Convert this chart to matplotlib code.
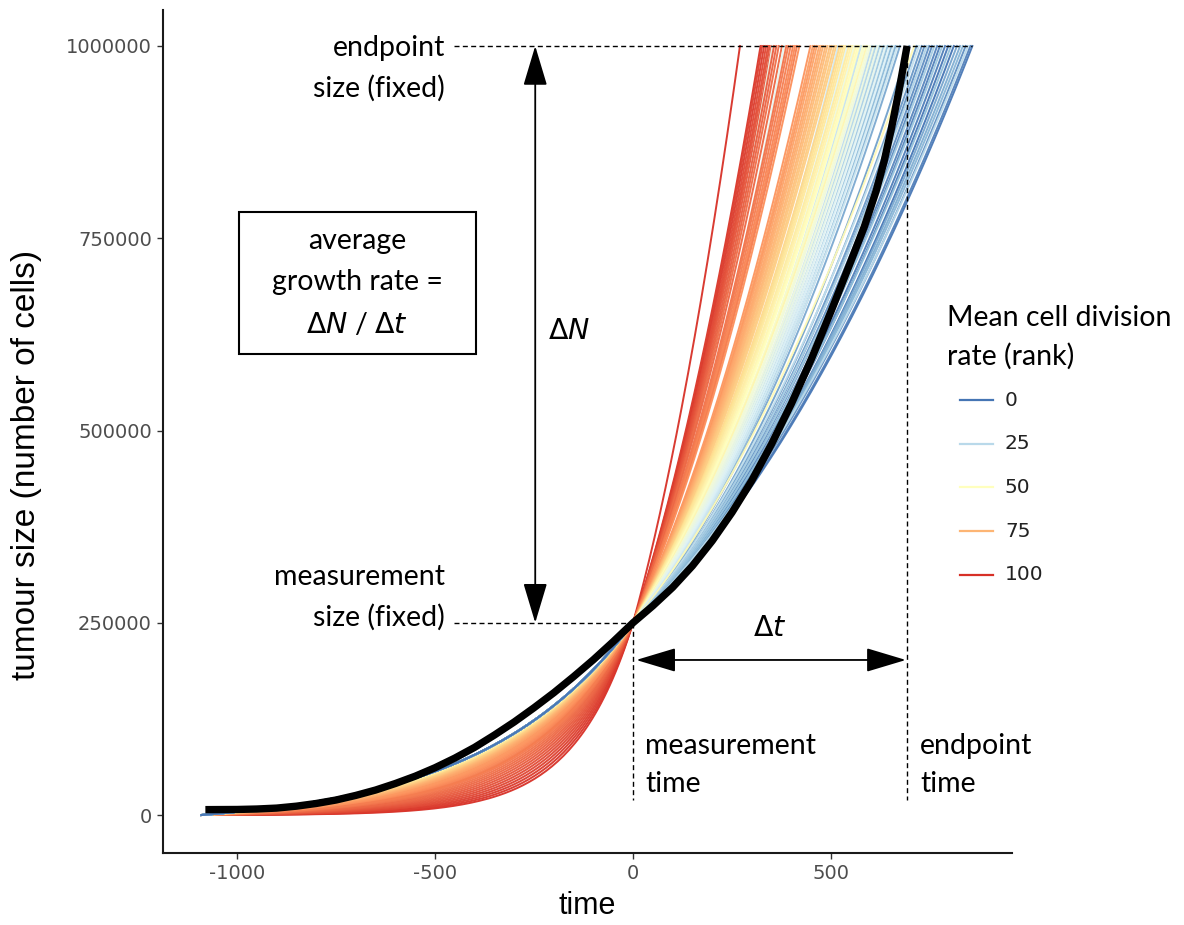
import numpy as np
import matplotlib
matplotlib.use("Agg")
import matplotlib.pyplot as plt
from matplotlib.colors import LinearSegmentedColormap
from matplotlib.patches import Rectangle
from matplotlib.lines import Line2D

# Simulated tumours: rank of mean cell division rate and the time at which
# each one reaches the endpoint size.
ranks = [100, 99, 97, 98, 96, 95, 94, 93, 38, 92,
         91, 89, 90, 36, 88, 87, 86, 85, 84, 86, 83,
         82, 80, 81, 79, 78, 77, 76, 75, 74, 73, 72, 71, 70, 30,
         68, 66, 64, 62, 34, 60, 58, 56, 40, 54, 52, 50, 28, 48, 46, 55, 44,
         42, 26, 41, 24, 39, 22, 37, 20, 35, 18, 33, 16, 31, 14, 29, 12,
         10, 53, 9, 27, 8, 7, 23, 6, 5, 21, 4, 3, 19, 2, 1, 17, 0, 11, 13, 15,
         6, 25, 3, 1]
end_times = [270, 322, 326, 331, 336, 341, 345, 350, 352, 356,
             362, 368, 376, 381, 387, 392, 398, 404, 409, 414, 420,
             448, 454, 459, 464, 470, 475, 480, 486, 491, 497, 502, 508, 513, 518,
             522, 527, 532, 537, 541, 545, 550, 555, 559, 563, 568, 572, 576, 581, 585, 590, 594,
             599, 604, 609, 613, 618, 623, 628, 633, 638, 643, 648, 653, 658, 663, 668, 674,
             698, 710, 716, 722, 729, 736, 742, 748, 755, 761, 768, 775, 781, 788, 796, 803, 810, 818, 826, 833,
             840, 846, 852, 857]

# Average trajectory
mean_time = [-1080, -1000, -950, -900, -850, -800, -750, -700, -650, -600,
             -550, -500, -450, -400, -350, -300, -250, -200, -150, -100,
             -50, 0, 50, 100, 150, 200, 250, 300, 350, 400, 450, 500, 550,
             584, 614, 634, 652, 672, 692]
mean_size = [7000, 7200, 7800, 9000, 11500, 15000, 19500, 25500, 32500, 41000,
             50500, 61500, 74000, 88000, 104000, 121000, 139500, 159000, 180000, 202000,
             225500, 250000, 272000, 296000, 324000, 356500, 393500, 435000, 482500,
             535000, 592500, 655000, 720000, 765000, 811700, 850000, 891500, 943000,
             1000000]

measure_size = 250000
end_size = 1000000
start_time = -1090
measure_time = 0
endpoint_time = 692

legend_ranks = [0, 25, 50, 75, 100]
x_ticks = [-1000, -500, 0, 500]
y_ticks = [0, 250000, 500000, 750000, 1000000]

cmap = LinearSegmentedColormap.from_list(
    "rdylbu7", ["#4575b4", "#91bfdb", "#e0f3f8", "#ffffbf",
                "#fee090", "#fc8d59", "#d73027"])


def trajectory(rank, t_end):
    """Growth before the measurement (exponential phase) and after it."""
    r = 0.0026 + 0.0041 * (rank / 100) ** 8
    t_pre = np.linspace(start_time, measure_time, 150)
    floor = np.exp(r * start_time)
    n_pre = measure_size * (np.exp(r * t_pre) - floor) / (1 - floor)
    k = 0.5 + 0.17 * rank / 100
    s0 = k * (end_size - measure_size) / t_end
    b = (end_size - measure_size - s0 * t_end) / t_end ** 2
    t_post = np.linspace(measure_time, t_end, 100)
    n_post = measure_size + s0 * t_post + b * t_post ** 2
    return np.concatenate([t_pre, t_post]), np.concatenate([n_pre, n_post])


W, H = 1184, 925
fig = plt.figure(figsize=(W / 100, H / 100), dpi=100)
ax = fig.add_axes([163 / W, 1 - 853 / H, (1012 - 163) / W, (853 - 10) / H])

for rk, te in zip(ranks, end_times):
    t, n = trajectory(rk, te)
    ax.plot(t, n, color=cmap(rk / 100), lw=1.4, alpha=0.95, zorder=2)

ax.plot(mean_time, mean_size, color="black", lw=5.3, solid_capstyle="butt",
        solid_joinstyle="round", zorder=4)

ax.set_xlim(-1187, 957)
ax.set_ylim(-49400, 1046800)
ax.set_xticks(x_ticks)
ax.set_yticks(y_ticks)
ax.set_xticklabels([str(v) for v in x_ticks])
ax.set_yticklabels([str(v) for v in y_ticks])
for s in ["top", "right"]:
    ax.spines[s].set_visible(False)
for s in ["left", "bottom"]:
    ax.spines[s].set_linewidth(1.5)
    ax.spines[s].set_color("#1a1a1a")
ax.tick_params(axis="both", length=4, width=1.0, color="#333333",
               labelcolor="#4d4d4d", labelsize=14, pad=4)
for lab in ax.get_xticklabels() + ax.get_yticklabels():
    lab.set_family("DejaVu Sans")

ax.set_xlabel("time", fontsize=22, family="Liberation Sans", va="center")
ax.xaxis.set_label_coords(0.5, -0.0629)
ax.set_ylabel("tumour size (number of cells)", fontsize=24, family="Liberation Sans")
ax.yaxis.set_label_coords(-0.142, 0.46)

annot_font = dict(family="Lato", fontsize=20.5, color="black")
dash = dict(color="black", lw=1.0, dashes=(3.6, 2.4), zorder=5)

# Fixed sizes
ax.plot([-453, 856], [end_size, end_size], **dash)
ax.plot([-453, measure_time], [measure_size, measure_size], **dash)
ax.text(-475, 971000, "endpoint\nsize (fixed)", ha="right", va="center",
        linespacing=1.6, **annot_font)
ax.text(-475, 283000, "measurement\nsize (fixed)", ha="right", va="center",
        linespacing=1.6, **annot_font)

# Fixed times
ax.plot([measure_time, measure_time], [measure_size, 19500], **dash)
ax.plot([endpoint_time, endpoint_time], [end_size, 19500], **dash)
ax.text(30, 65000, "measurement\ntime", ha="left", va="center",
        linespacing=1.55, **annot_font)
ax.text(725, 65000, "endpoint\ntime", ha="left", va="center",
        linespacing=1.55, **annot_font)

arrow = dict(arrowstyle="<|-|>,head_length=1.0,head_width=0.3",
             mutation_scale=25, color="black", lw=1.3,
             shrinkA=0, shrinkB=0)
ax.annotate("", xy=(-247, end_size), xytext=(-247, measure_size),
            arrowprops=arrow, zorder=6)
ax.text(-214, 630000, r"$\Delta$$\it{N}$", ha="left", va="center", **annot_font)

ax.annotate("", xy=(8, 201600), xytext=(689, 201600),
            arrowprops=arrow, zorder=6)
ax.text(346, 243000, r"$\Delta$$\it{t}$", ha="center", va="center", **annot_font)

# Growth rate definition box
ax.add_patch(Rectangle((-995, 599500), 599, 184600, fill=False,
                       ec="black", lw=1.5, zorder=5))
ax.text(-697, 691800, "average\ngrowth rate =\n" + r"$\Delta$$\it{N}$ / $\Delta$$\it{t}$",
        ha="center", va="center", linespacing=1.7, **annot_font)

# Legend
fig.text(947 / W, 1 - 337 / H, "Mean cell division\nrate (rank)", ha="left",
         va="center", linespacing=1.55, **annot_font)
for i, rk in enumerate(legend_ranks):
    yy = 1 - (400 + 43.7 * i) / H
    fig.add_artist(Line2D([960 / W, 993 / W], [yy, yy], color=cmap(rk / 100),
                          lw=1.6, transform=fig.transFigure))
    fig.text(1005 / W, yy, str(rk), ha="left", va="center", fontsize=14.5,
             color="#222222", family="DejaVu Sans")

fig.savefig("out.png", dpi=100)
